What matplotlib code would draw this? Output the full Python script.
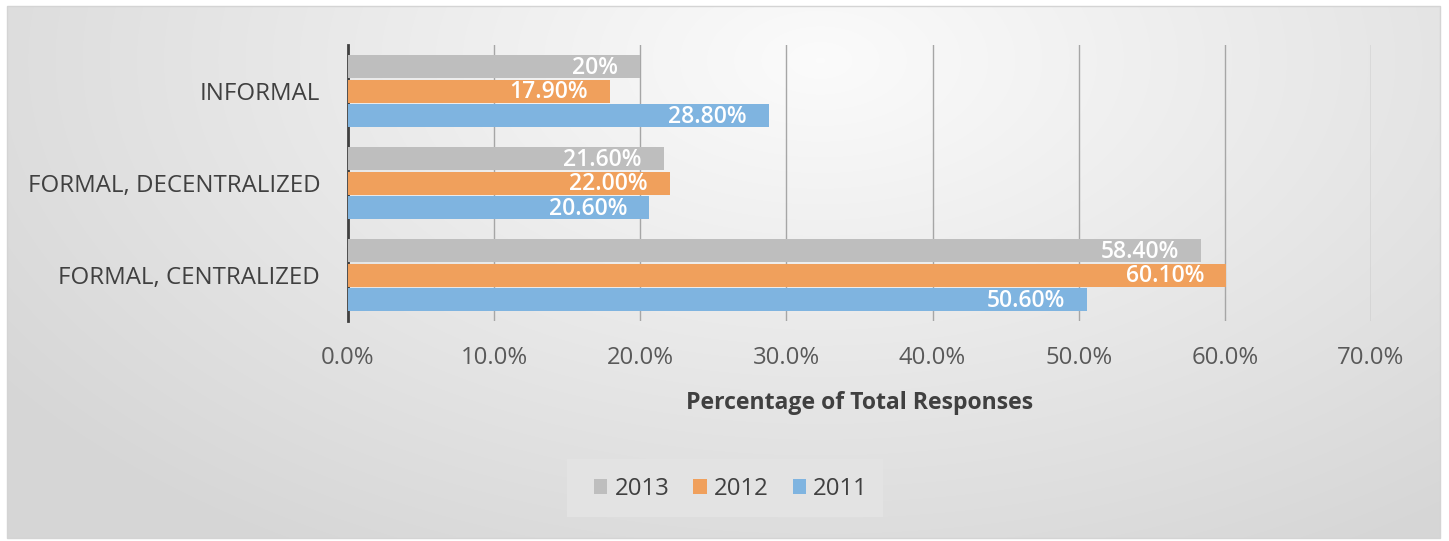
import matplotlib.pyplot as plt
import numpy as np
from matplotlib.patches import Rectangle

plt.rcParams['font.family'] = ['Open Sans', 'DejaVu Sans']

# data
categories = ["FORMAL, CENTRALIZED", "FORMAL, DECENTRALIZED", "INFORMAL"]
years = ["2013", "2012", "2011"]
vals_2013 = [58.4, 21.6, 20.0]
vals_2012 = [60.1, 22.0, 17.9]
vals_2011 = [50.6, 20.6, 28.8]
labels_2013 = ["58.40%", "21.60%", "20%"]
labels_2012 = ["60.10%", "22.00%", "17.90%"]
labels_2011 = ["50.60%", "20.60%", "28.80%"]
colors = ["#BEBEBE", "#F0A05C", "#7FB4E0"]

fig = plt.figure(figsize=(14.49, 5.41), dpi=100)

# background with a soft radial gradient
bg = fig.add_axes([0, 0, 1, 1], zorder=-10)
h, w = 541, 1449
yy, xx = np.mgrid[0:h, 0:w]
r = np.sqrt(((xx - 820) / 900.0) ** 2 + ((yy - 60) / 520.0) ** 2)
shade = np.clip(0.985 - 0.13 * r, 0.84, 0.985)
img = np.dstack([shade, shade, shade])
img[:6, :] = 1; img[-3:, :] = 1; img[:, :7] = 1; img[:, -8:] = 1
bg.imshow(img, aspect='auto', extent=[0, w, h, 0])
bg.add_patch(Rectangle((7, 6), 1433, 532, fill=False, ec="#D4D4D4", lw=1))
# legend box
bg.add_patch(Rectangle((567, 459), 316, 58, fc="#E3E3E3", ec="none"))
bg.set_xlim(0, w); bg.set_ylim(h, 0)
bg.axis('off')

ax = fig.add_axes([348 / w, 1 - 321 / h, (1371 - 348) / w, 276 / h])
ax.patch.set_alpha(0)

y = np.arange(len(categories))
bh = 0.25
off = 0.27
series = [(vals_2013, labels_2013), (vals_2012, labels_2012), (vals_2011, labels_2011)]
for i, (vals, labs) in enumerate(series):
    pos = y + off * (1 - i)
    bars = ax.barh(pos, vals, height=bh, color=colors[i], label=years[i], zorder=3)
    for b, v, t in zip(bars, vals, labs):
        ax.text(v - 1.5, b.get_y() + b.get_height() / 2 - 0.015, t, ha='right', va='center',
                color='white', fontsize=16.5, fontweight='semibold', zorder=4)

ax.set_xlim(0, 70)
ax.set_ylim(-0.5, 2.5)
ax.set_xticks(np.arange(0, 71, 10))
ax.set_xticklabels([f"{v:.1f}%" for v in np.arange(0, 71, 10)], fontsize=17.2, color="#595959")
ax.set_yticks(y)
ax.set_yticklabels(categories, fontsize=17.3, color="#404040")
ax.tick_params(axis='both', length=0)
ax.tick_params(axis='x', pad=18)
ax.tick_params(axis='y', pad=20)
ax.grid(axis='x', color="#A6A6A6", lw=1, zorder=0)
for s in ['top', 'right', 'bottom']:
    ax.spines[s].set_visible(False)
ax.spines['left'].set_color("#404040")
ax.spines['left'].set_linewidth(2)
ax.set_xlabel("Percentage of Total Responses", fontsize=16.6, fontweight='bold',
              color="#404040", labelpad=15)

leg = fig.legend(loc='center', bbox_to_anchor=(731 / w, 1 - 489 / h), ncol=3,
                 frameon=False, fontsize=17.3, handlelength=0.55, handleheight=0.55,
                 handletextpad=0.3, columnspacing=1.0, borderpad=0)
for t in leg.get_texts():
    t.set_color("#404040")

fig.savefig("out.png", dpi=100)
